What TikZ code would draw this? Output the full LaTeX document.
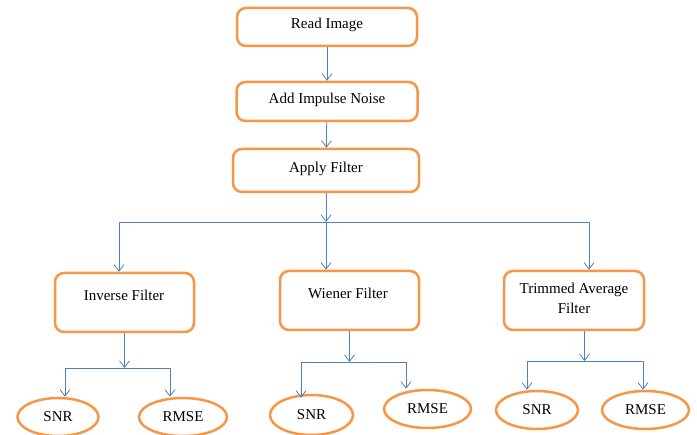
\documentclass[tikz,border=0pt]{standalone}
\usepackage{fontspec}
\setmainfont{Liberation Serif}
\usetikzlibrary{arrows.meta,shapes.geometric}
\definecolor{orng}{HTML}{F79646}
\definecolor{blu}{HTML}{4F81BD}
\begin{document}
\begin{tikzpicture}[x=1pt,y=-1pt,
  box/.style={draw=orng, line width=2.5pt, rounded corners=9pt, fill=white, inner sep=0pt},
  high/.style={text height=10pt, text depth=6.5pt},
  oval/.style={ellipse, draw=orng, line width=2.5pt, inner sep=0pt, fill=white},
  lbl/.style={font=\fontsize{15}{20}\selectfont, align=center},
  conn/.style={draw=blu, line width=0.8pt},
  arr/.style={conn, -{Straight Barb[length=6.5pt,width=10pt]}}]
\useasboundingbox (0,0) rectangle (697,435);

% main chain
\node[box, lbl, high, minimum width=180pt, minimum height=38pt] (read) at (327,27) {Read Image};
\node[box, lbl, high, minimum width=181pt, minimum height=39pt] (add) at (327,101.5) {Add Impulse Noise};
\node[box, lbl, high, minimum width=186pt, minimum height=43pt] (apply) at (326,170.5) {Apply Filter};

% filters
\node[box, minimum width=139pt, minimum height=59pt] (inv) at (124.5,302.5) {};
\node[lbl] (invt) at (124,295) {Inverse Filter};
\node[box, minimum width=139pt, minimum height=59pt] (wien) at (349.5,300.5) {};
\node[lbl] (wient) at (348,293) {Wiener Filter};
\node[box, minimum width=140pt, minimum height=59pt] (trim) at (574,300.5) {};
\node[lbl] (trimt) at (574,298) {Trimmed Average\\Filter};

% measures
\node[oval, lbl, minimum width=81pt, minimum height=38pt] (snr1) at (58,417) {SNR};
\node[oval, lbl, minimum width=88pt, minimum height=38pt] (rmse1) at (183,417) {RMSE};
\node[oval, lbl, minimum width=83pt, minimum height=40pt] (snr2) at (311.5,415) {SNR};
\node[oval, lbl, minimum width=87pt, minimum height=38pt] (rmse2) at (427.5,409) {RMSE};
\node[oval, lbl, minimum width=82pt, minimum height=38pt] (snr3) at (537,410) {SNR};
\node[oval, lbl, minimum width=87pt, minimum height=38pt] (rmse3) at (645.5,410) {RMSE};

% connectors
\draw[arr] (read) -- (add);
\draw[arr] (add) -- (apply);
\coordinate (j0) at (326,222);
\draw[arr] (apply.south) -- (j0);
\draw[arr] (j0) -| ([xshift=-5.5pt]inv.north);
\draw[arr] (j0) -- (j0 |- wien.north);
\draw[arr] (j0) -| ([xshift=15pt]trim.north);

\coordinate (j1) at (124.5,368);
\draw[arr] (inv.south) -- (j1);
\draw[arr] (j1) -| ([xshift=7pt]snr1.north);
\draw[arr] (j1) -| ([xshift=-13pt]rmse1.north);

\coordinate (j2) at (349.5,362);
\draw[arr] (wien.south) -- (j2);
\draw[arr] (j2) -| ([xshift=-10.5pt,yshift=-4pt]snr2.north);
\draw[arr] (j2) -| ([xshift=-21.5pt]rmse2.north);

\coordinate (j3) at (584.5,361);
\draw[arr] ([xshift=10.5pt]trim.south) -- (j3);
\draw[arr] (j3) -| ([xshift=-10pt]snr3.north);
\draw[arr] (j3) -| ([xshift=-2.5pt]rmse3.north);
\end{tikzpicture}
\end{document}
